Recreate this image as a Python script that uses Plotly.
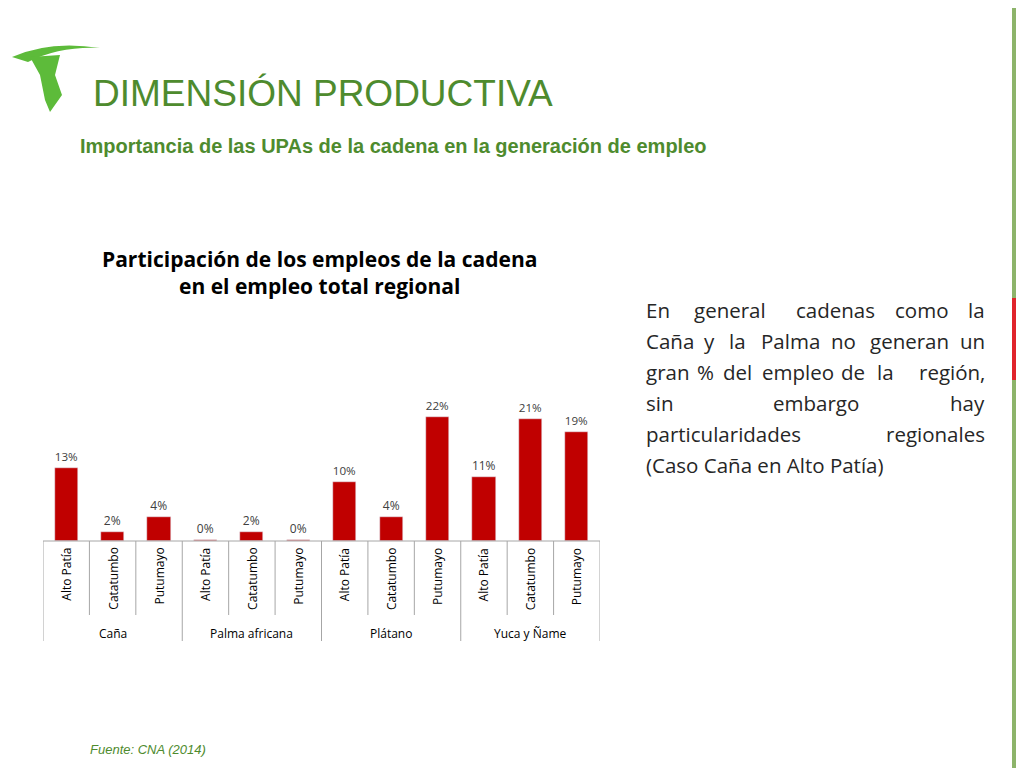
import plotly.graph_objects as go

groups = ["Caña", "Palma africana", "Plátano", "Yuca y Ñame"]
regions = ["Alto Patía", "Catatumbo", "Putumayo"]
values = [13.0, 1.6, 4.3, 0.1, 1.6, 0.2, 10.5, 4.3, 22.0, 11.3, 21.6, 19.3]
labels = ["13%", "2%", "4%", "0%", "2%", "0%", "10%", "4%", "22%", "11%", "21%", "19%"]

W, H = 1024, 768
OFF = 8
def px(x): return (x - OFF) / W
def py(y): return 1 - (y - OFF) / H

xs = list(range(len(values)))
fig = go.Figure(go.Bar(x=xs, y=values, marker_color="#C00000", width=0.5,
                       text=labels, textposition="outside", cliponaxis=False,
                       textfont=dict(family="Open Sans", size=12, color="#404040")))
fig.update_layout(
    width=W, height=H, margin=dict(l=0, r=0, t=0, b=0),
    plot_bgcolor="white", paper_bgcolor="white", showlegend=False, bargap=0,
    xaxis=dict(domain=[px(43), px(600)], range=[-0.5, 11.5], visible=False),
    yaxis=dict(domain=[py(541), py(400)], range=[0, 25], visible=False),
)
shapes = []
shapes.append(dict(type="line", xref="x", yref="paper", x0=-0.5, x1=11.5, y0=py(541), y1=py(541), line=dict(color="#A6A6A6", width=1)))
for i in range(13):
    xb = i - 0.5
    bottom = 641 if i % 3 == 0 else 615
    shapes.append(dict(type="line", xref="x", yref="paper", x0=xb, x1=xb, y0=py(541), y1=py(bottom), line=dict(color="#A6A6A6", width=1)))
anns = []
for i in xs:
    anns.append(dict(x=i, y=py(546), xref="x", yref="paper", text=regions[i % 3], textangle=-90,
                     showarrow=False, yanchor="top", font=dict(family="Open Sans", size=12, color="black")))
for g, name in enumerate(groups):
    anns.append(dict(x=g * 3 + 1, y=py(633), xref="x", yref="paper", text=name, showarrow=False, yanchor="middle",
                     font=dict(family="Open Sans", size=12, color="black")))
anns.append(dict(x=px(91), y=py(93), xref="paper", yref="paper", text="DIMENSIÓN PRODUCTIVA", showarrow=False,
                 xanchor="left", yanchor="middle", font=dict(family="Liberation Sans", size=37, color="#4E8B2E")))
anns.append(dict(x=px(78), y=py(146), xref="paper", yref="paper", text="<b>Importancia de las UPAs de la cadena en la generación de empleo</b>",
                 showarrow=False, xanchor="left", yanchor="middle", font=dict(family="Liberation Sans", size=20, color="#4E8B2E")))
anns.append(dict(x=px(319), y=py(273), xref="paper", yref="paper",
                 text="<b>Participación de los empleos de la cadena<br>en el empleo total regional</b>",
                 showarrow=False, xanchor="center", yanchor="middle", font=dict(family="Open Sans", size=21, color="black")))
lines = ["En general cadenas como la", "Caña y la Palma no generan un", "gran % del empleo de la región,",
         "sin embargo hay", "particularidades regionales", "(Caso Caña en Alto Patía)"]
for k, ln in enumerate(lines):
    words = ln.split(" ")
    y = py(310 + k * 31)
    if k == len(lines) - 1:
        anns.append(dict(x=px(644), y=y, xref="paper", yref="paper", text=ln, showarrow=False, xanchor="left",
                         yanchor="middle", font=dict(family="Open Sans", size=20.5, color="#262626")))
    else:
        n = len(words)
        for j, w in enumerate(words):
            if j == 0:
                xx, xa = 644, "left"
            elif j == n - 1:
                xx, xa = 987, "right"
            else:
                total = sum(len(v) for v in words)
                before = sum(len(v) for v in words[:j]) + len(w) / 2
                xx, xa = 644 + 343 * (before + j * 0.8) / (total + (n - 1) * 0.8), "center"
            anns.append(dict(x=px(xx), y=y, xref="paper", yref="paper", text=w, showarrow=False, xanchor=xa,
                             yanchor="middle", font=dict(family="Open Sans", size=20.5, color="#262626")))
anns.append(dict(x=px(88), y=py(749), xref="paper", yref="paper", text="<i>Fuente: CNA (2014)</i>", showarrow=False,
                 xanchor="left", yanchor="middle", font=dict(family="Liberation Sans", size=13, color="#4E8B2E")))
for y0, y1, c in [(0, 298, "#8DB46A"), (298, 380, "#E0242B"), (380, 776, "#8DB46A")]:
    shapes.append(dict(type="rect", xref="paper", yref="paper", x0=px(1012), x1=1, y0=py(y1), y1=py(y0), fillcolor=c, line_width=0))
shapes.append(dict(type="path", xref="paper", yref="paper", fillcolor="#5DBB3A", line_width=0,
                   path=f"M {px(12)},{py(57)} Q {px(50)},{py(40)} {px(100)},{py(48)} Q {px(60)},{py(46)} {px(28)},{py(62)} Z"))
shapes.append(dict(type="path", xref="paper", yref="paper", fillcolor="#5DBB3A", line_width=0,
                   path=f"M {px(30)},{py(57)} L {px(60)},{py(55)} L {px(55)},{py(75)} L {px(62)},{py(95)} L {px(50)},{py(112)} L {px(45)},{py(100)} L {px(40)},{py(75)} Z"))
fig.update_layout(shapes=shapes, annotations=anns)
fig.write_html("out.html")
